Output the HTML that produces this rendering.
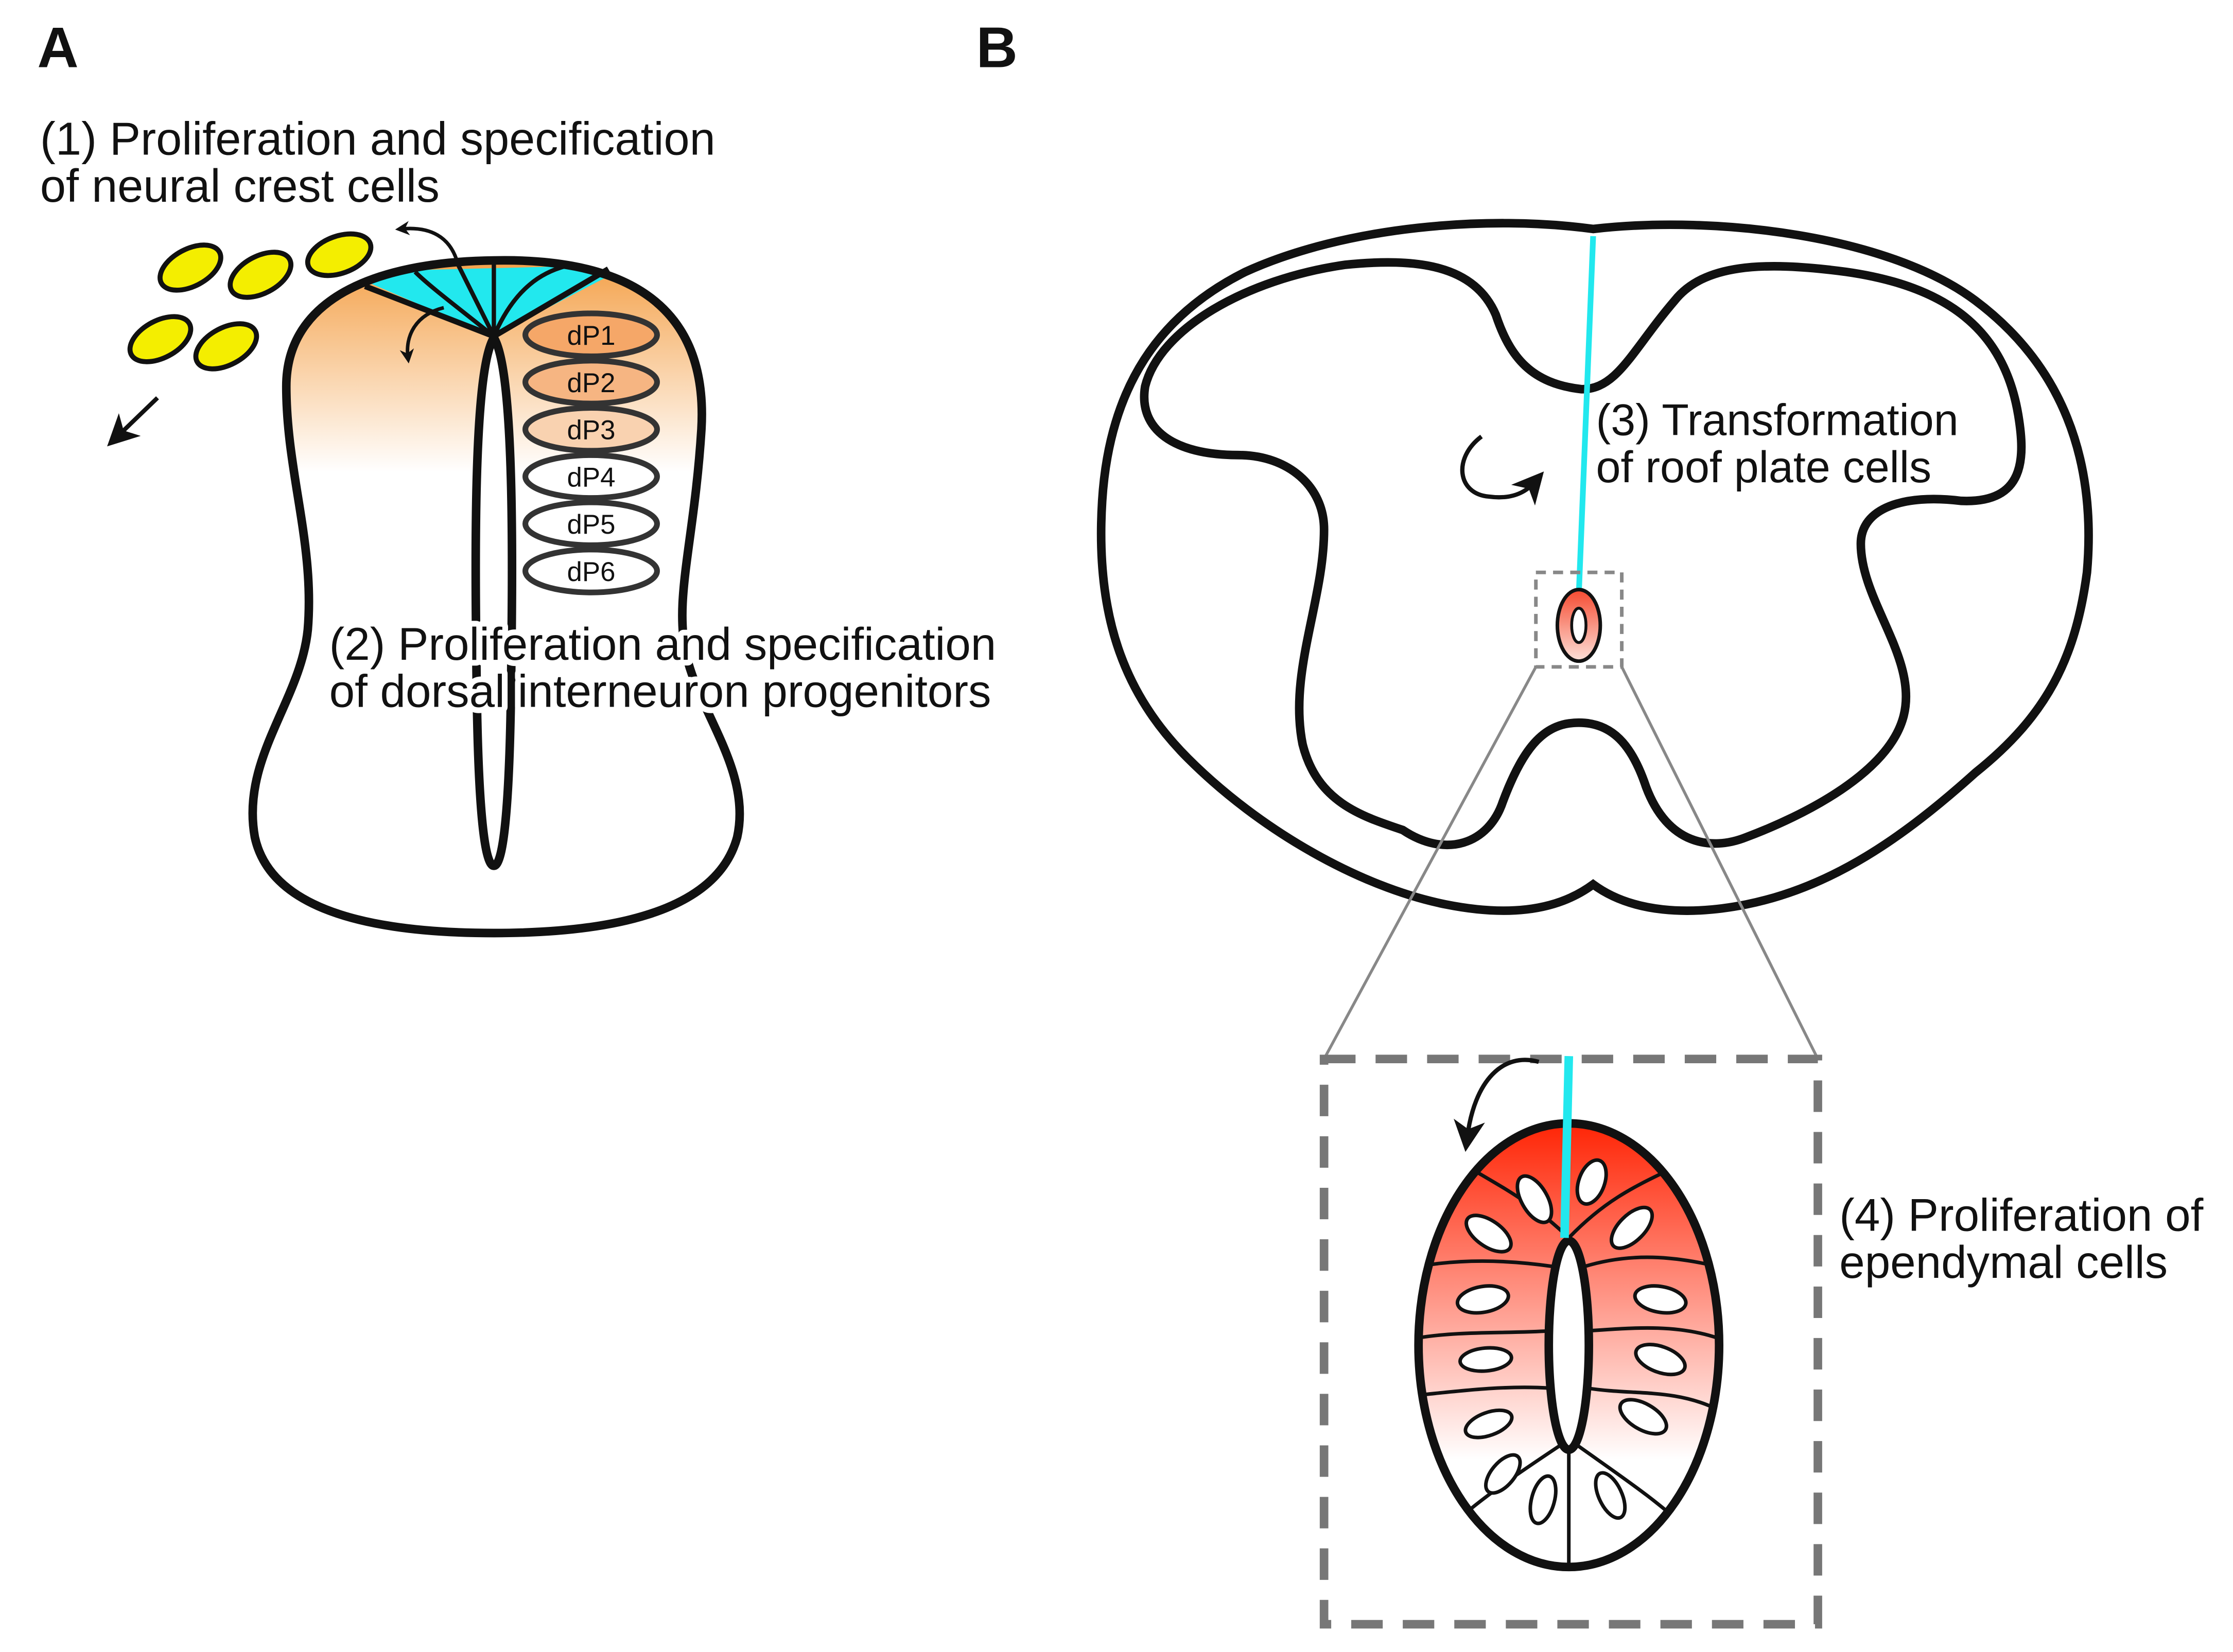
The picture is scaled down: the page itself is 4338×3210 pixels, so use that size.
<!DOCTYPE html>
<html><head><meta charset="utf-8"><style>
html,body{margin:0;padding:0;background:#fff;}
svg{display:block;}
text{font-family:"Liberation Sans",sans-serif;fill:#111;}
.halo{stroke:#fff;stroke-width:8;paint-order:stroke;stroke-linejoin:round;}
</style></head><body>
<svg width="4338" height="3210" viewBox="0 0 1560 1154.4" xmlns="http://www.w3.org/2000/svg">
<defs>
<linearGradient id="og" x1="0" y1="0" x2="0" y2="1">
<stop offset="0" stop-color="#f39a3c"/><stop offset="1" stop-color="#fff"/></linearGradient>
<linearGradient id="rg" x1="0" y1="0" x2="0" y2="1">
<stop offset="0" stop-color="#ff2000"/><stop offset="0.75" stop-color="#fff"/><stop offset="1" stop-color="#fff"/></linearGradient>
<linearGradient id="rg2" x1="0" y1="0" x2="0" y2="1">
<stop offset="0" stop-color="#f54a30"/><stop offset="1" stop-color="#fde0d8"/></linearGradient>
<marker id="ah" markerWidth="10" markerHeight="10" refX="6" refY="5" orient="auto" markerUnits="userSpaceOnUse"><path d="M0,0 L10,5 L0,10 L3,5z" fill="#111"/></marker>
<marker id="ah2" markerWidth="22" markerHeight="22" refX="12" refY="11" orient="auto" markerUnits="userSpaceOnUse"><path d="M0,0 L22,11 L0,22 L6,11z" fill="#111"/></marker>
<clipPath id="lt"><path d="M345,182 C440,180 495,215 490,300 C485,380 470,420 480,460 C490,500 525,540 515,585 C500,640 420,652 345,652 C270,652 190,640 178,585 C168,530 210,490 215,440 C220,380 200,330 200,270 C200,210 260,183 345,182Z"/></clipPath>
<clipPath id="eb"><ellipse cx="1096" cy="940" rx="105" ry="155"/></clipPath>
</defs>

<text x="26" y="47" font-size="40" font-weight="bold">A</text>
<text x="682" y="47" font-size="40" font-weight="bold">B</text>
<text x="28" y="108" font-size="32.4">(1) Proliferation and specification</text>
<text x="28" y="141" font-size="32.4">of neural crest cells</text>

<g clip-path="url(#lt)">
<rect x="150" y="170" width="380" height="160" fill="url(#og)"/>
<path d="M240,190 L440,185 L345,235 Z" fill="#22e8ee"/>
</g>
<path d="M255,200 L345,235 L425,188" fill="none" stroke="#111" stroke-width="4"/>
<path d="M345,235 L320,185 M345,235 L345,182 M345,235 C360,200 380,190 395,186 M345,235 C320,215 300,200 290,190" fill="none" stroke="#111" stroke-width="3"/>
<path d="M345,182 C440,180 495,215 490,300 C485,380 470,420 480,460 C490,500 525,540 515,585 C500,640 420,652 345,652 C270,652 190,640 178,585 C168,530 210,490 215,440 C220,380 200,330 200,270 C200,210 260,183 345,182Z" fill="none" stroke="#111" stroke-width="6"/>
<path d="M345,236 C330,260 332,400 333,480 C334,560 338,605 345,605 C352,605 356,560 357,480 C358,400 360,260 345,236Z" fill="#fff" stroke="#111" stroke-width="6"/>
<g stroke="#333" stroke-width="4">
<ellipse cx="413" cy="234" rx="46" ry="15" fill="#f5a768"/>
<ellipse cx="413" cy="267" rx="46" ry="15" fill="#f6b582"/>
<ellipse cx="413" cy="300" rx="46" ry="15" fill="#f9d2b0"/>
<ellipse cx="413" cy="333" rx="46" ry="15" fill="#fff"/>
<ellipse cx="413" cy="366" rx="46" ry="15" fill="#fff"/>
<ellipse cx="413" cy="399" rx="46" ry="15" fill="#fff"/>
</g>
<g font-size="19" text-anchor="middle">
<text x="413" y="241">dP1</text><text x="413" y="274">dP2</text><text x="413" y="307">dP3</text>
<text x="413" y="340">dP4</text><text x="413" y="373">dP5</text><text x="413" y="406">dP6</text>
</g>
<text class="halo" x="230" y="461" font-size="32">(2) Proliferation and specification</text>
<text class="halo" x="230" y="494" font-size="32">of dorsal interneuron progenitors</text>
<g fill="#f4ee00" stroke="#111" stroke-width="3.5">
<ellipse cx="133" cy="187" rx="23" ry="13" transform="rotate(-28 133 187)"/>
<ellipse cx="182" cy="192" rx="23" ry="13" transform="rotate(-28 182 192)"/>
<ellipse cx="237" cy="178" rx="23" ry="13" transform="rotate(-20 237 178)"/>
<ellipse cx="112" cy="237" rx="23" ry="13" transform="rotate(-28 112 237)"/>
<ellipse cx="158" cy="242" rx="23" ry="13" transform="rotate(-28 158 242)"/>
</g>
<path d="M320,185 C315,165 300,158 280,160" fill="none" stroke="#111" stroke-width="2.5" marker-end="url(#ah)"/>
<path d="M310,215 C290,220 283,235 285,250" fill="none" stroke="#111" stroke-width="2.5" marker-end="url(#ah)"/>
<path d="M110,278 L82,305" stroke="#111" stroke-width="3" marker-end="url(#ah2)"/>

<path d="M1113,160 C1200,150 1320,165 1380,210 C1440,255 1465,320 1458,400 C1450,460 1430,500 1380,540 C1330,585 1280,620 1220,632 C1180,640 1140,638 1113,618 C1086,638 1050,640 1010,632 C950,620 880,580 830,530 C785,485 765,430 770,350 C775,270 810,220 870,190 C940,158 1040,150 1113,160Z" fill="#fff" stroke="#111" stroke-width="6"/>
<path d="M1105,272 C1070,268 1055,250 1045,220 C1030,185 990,180 940,185 C870,195 810,230 800,270 C795,300 820,318 865,318 C900,318 925,340 925,370 C925,420 900,470 910,520 C920,560 950,570 980,580 C1010,600 1040,590 1050,560 C1065,520 1080,505 1103,505 C1126,505 1140,520 1150,550 C1165,590 1195,595 1220,585 C1260,570 1320,540 1330,500 C1340,460 1300,420 1300,380 C1300,355 1330,345 1370,350 C1415,352 1415,320 1410,290 C1400,230 1360,200 1290,190 C1230,182 1190,185 1170,210 C1140,245 1130,272 1105,272Z" fill="#fff" stroke="#111" stroke-width="6"/>
<path d="M1113,165 L1103,415" stroke="#22e8ee" stroke-width="4" fill="none"/>
<ellipse cx="1103" cy="437" rx="15" ry="25" fill="url(#rg2)" stroke="#111" stroke-width="2.5"/>
<ellipse cx="1103" cy="437" rx="5" ry="12" fill="#fff" stroke="#111" stroke-width="2"/>
<rect x="1073" y="400" width="60" height="66" fill="none" stroke="#888" stroke-width="2.5" stroke-dasharray="7,5"/>
<line x1="1073" y1="466" x2="925" y2="740" stroke="#888" stroke-width="2"/>
<line x1="1133" y1="466" x2="1270" y2="740" stroke="#888" stroke-width="2"/>
<path d="M1035,305 C1015,320 1018,345 1040,347 C1055,349 1065,345 1072,337" fill="none" stroke="#111" stroke-width="3" marker-end="url(#ah2)"/>
<text x="1115" y="304" font-size="31">(3) Transformation</text>
<text x="1115" y="337" font-size="31">of roof plate cells</text>

<rect x="925" y="740" width="345" height="395" fill="none" stroke="#777" stroke-width="6" stroke-dasharray="22,14"/>
<text x="1285" y="860" font-size="32">(4) Proliferation of</text>
<text x="1285" y="893" font-size="32">ependymal cells</text>

<g clip-path="url(#eb)">
<rect x="985" y="780" width="225" height="320" fill="url(#rg)"/>
<g stroke="#111" stroke-width="2.5" fill="none">
<path d="M1096,865 C1070,840 1050,830 1030,818 M1096,865 C1120,840 1140,830 1165,818"/>
<path d="M1085,885 C1050,880 1020,880 990,885 M1107,885 C1140,875 1170,878 1200,885"/>
<path d="M1083,930 C1050,932 1020,930 990,935 M1109,930 C1140,928 1170,925 1200,935"/>
<path d="M1083,970 C1050,968 1020,972 990,975 M1109,970 C1140,975 1170,970 1200,985"/>
<path d="M1090,1010 C1060,1030 1030,1050 1010,1070 M1102,1010 C1130,1030 1160,1050 1180,1070"/>
<path d="M1096,1015 L1096,1100"/>
</g>
<g stroke="#111" stroke-width="2.5" fill="#fff">
<ellipse cx="1072" cy="838" rx="9" ry="18" transform="rotate(-30 1072 838)"/>
<ellipse cx="1112" cy="826" rx="9" ry="16" transform="rotate(20 1112 826)"/>
<ellipse cx="1140" cy="858" rx="9" ry="18" transform="rotate(45 1140 858)"/>
<ellipse cx="1040" cy="862" rx="9" ry="18" transform="rotate(-55 1040 862)"/>
<ellipse cx="1036" cy="908" rx="9" ry="18" transform="rotate(80 1036 908)"/>
<ellipse cx="1160" cy="908" rx="9" ry="18" transform="rotate(-80 1160 908)"/>
<ellipse cx="1038" cy="950" rx="8" ry="18" transform="rotate(85 1038 950)"/>
<ellipse cx="1160" cy="950" rx="9" ry="18" transform="rotate(-70 1160 950)"/>
<ellipse cx="1040" cy="995" rx="8" ry="17" transform="rotate(70 1040 995)"/>
<ellipse cx="1148" cy="990" rx="9" ry="18" transform="rotate(-60 1148 990)"/>
<ellipse cx="1050" cy="1030" rx="8" ry="16" transform="rotate(40 1050 1030)"/>
<ellipse cx="1078" cy="1048" rx="8" ry="17" transform="rotate(15 1078 1048)"/>
<ellipse cx="1125" cy="1045" rx="8" ry="17" transform="rotate(-25 1125 1045)"/>
</g>
</g>
<ellipse cx="1096" cy="940" rx="105" ry="155" fill="none" stroke="#111" stroke-width="6"/>
<ellipse cx="1096" cy="940" rx="14" ry="73" fill="#fff" stroke="#111" stroke-width="6"/>
<path d="M1096,738 L1093,865" stroke="#22e8ee" stroke-width="6"/>
<path d="M1075,742 C1050,735 1030,755 1025,795" fill="none" stroke="#111" stroke-width="3" marker-end="url(#ah2)"/>
</svg>
</body></html>
